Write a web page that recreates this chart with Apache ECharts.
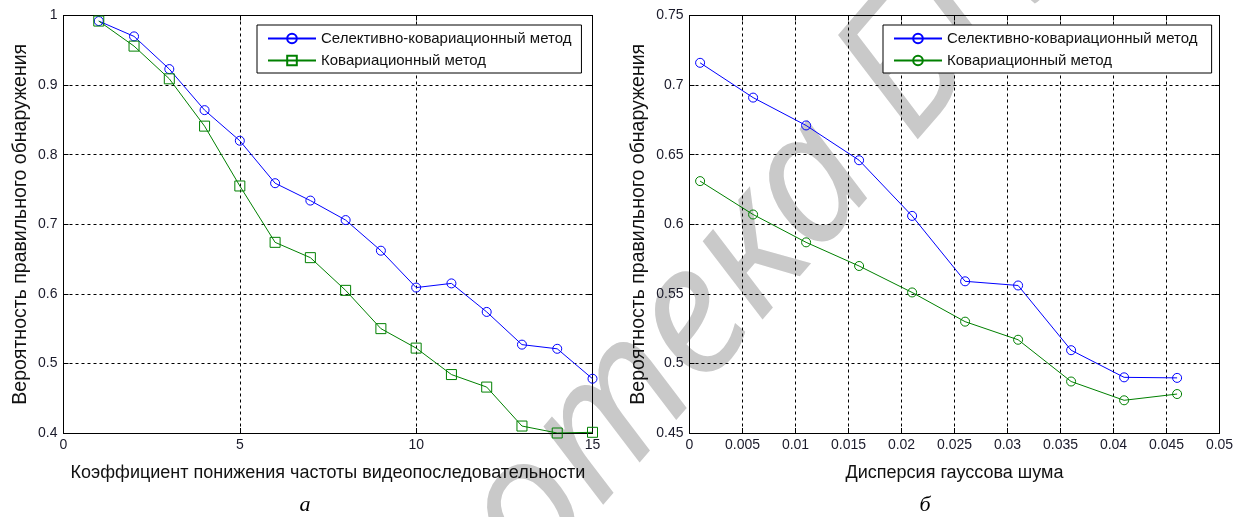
<!DOCTYPE html>
<html>
<head>
<meta charset="utf-8">
<script src="https://cdn.jsdelivr.net/npm/echarts@6/dist/echarts.min.js"></script>
<style>
html,body{margin:0;padding:0;background:#fff;}
#chart{width:1241px;height:517px;}
</style>
</head>
<body>
<div id="chart"></div>
<script>
// ---- Data ----
const seriesNames = ['Селективно-ковариационный метод', 'Ковариационный метод'];

// Left plot (a)
const xA = [1, 2, 3, 4, 5, 6, 7, 8, 9, 10, 11, 12, 13, 14, 15];
const selA = [0.992, 0.970, 0.923, 0.864, 0.820, 0.759, 0.734, 0.706, 0.662, 0.609, 0.615, 0.574, 0.527, 0.521, 0.478];
const covA = [0.992, 0.956, 0.909, 0.841, 0.755, 0.674, 0.652, 0.605, 0.550, 0.522, 0.484, 0.466, 0.410, 0.400, 0.401];

// Right plot (б)
const xB = [0.001, 0.006, 0.011, 0.016, 0.021, 0.026, 0.031, 0.036, 0.041, 0.046];
const selB = [0.716, 0.691, 0.671, 0.646, 0.606, 0.559, 0.556, 0.5095, 0.490, 0.4896];
const covB = [0.631, 0.607, 0.587, 0.570, 0.551, 0.530, 0.517, 0.487, 0.4735, 0.478];

const xNameA = 'Коэффициент понижения частоты видеопоследовательности';
const xNameB = 'Дисперсия гауссова шума';
const yName = 'Вероятность правильного обнаружения';
const captions = ['а', 'б'];
const watermark = 'Библиотека БГУИР';

const zip = (xs, ys) => xs.map((x, i) => [x, ys[i]]);

const BLUE = '#0000ff';
const GREEN = '#008000';
const FONT = 'Liberation Sans, Arial, sans-serif';
const LABEL_COLOR = '#1a1a2a';

function xAxisPair(gridIndex, min, max, interval, name) {
  return [
    {
      type: 'value', gridIndex, min, max, interval, position: 'bottom',
      name, nameLocation: 'middle', nameGap: 31,
      nameTextStyle: {fontFamily: FONT, fontSize: 18, color: '#111'},
      axisLine: {show: true, onZero: false, lineStyle: {color: '#000', width: 1}},
      axisTick: {show: true, inside: true, length: 5, lineStyle: {color: '#000'}},
      axisLabel: {show: true, fontFamily: FONT, fontSize: 14, color: LABEL_COLOR, margin: 5},
      splitLine: {show: true, lineStyle: {color: '#000', type: [3, 3], width: 1}}
    },
    {
      type: 'value', gridIndex, min, max, interval, position: 'top',
      axisLine: {show: true, onZero: false, lineStyle: {color: '#000', width: 1}},
      axisTick: {show: true, inside: true, length: 5, lineStyle: {color: '#000'}},
      axisLabel: {show: false},
      splitLine: {show: false}
    }
  ];
}

function yAxisPair(gridIndex, min, max, interval, nameGap) {
  return [
    {
      type: 'value', gridIndex, min, max, interval, position: 'left',
      name: yName, nameLocation: 'middle', nameGap,
      nameTextStyle: {fontFamily: FONT, fontSize: 19.5, color: '#111'},
      axisLine: {show: true, onZero: false, lineStyle: {color: '#000', width: 1}},
      axisTick: {show: true, inside: true, length: 5, lineStyle: {color: '#000'}},
      axisLabel: {show: true, fontFamily: FONT, fontSize: 14, color: LABEL_COLOR, margin: 6},
      splitLine: {show: true, lineStyle: {color: '#000', type: [3, 3], width: 1}}
    },
    {
      type: 'value', gridIndex, min, max, interval, position: 'right',
      axisLine: {show: true, onZero: false, lineStyle: {color: '#000', width: 1}},
      axisTick: {show: true, inside: true, length: 5, lineStyle: {color: '#000'}},
      axisLabel: {show: false},
      splitLine: {show: false}
    }
  ];
}

function lineSeries(name, data, xi, yi, color, symbol) {
  return {
    type: 'line', name, data, xAxisIndex: xi, yAxisIndex: yi,
    symbol, symbolSize: symbol === 'rect' ? 10 : 9,
    showSymbol: true, animation: false, z: 5,
    lineStyle: {color, width: 1},
    itemStyle: {color: 'rgba(255,255,255,0)', borderColor: color, borderWidth: 1}
  };
}

function legend(left, names) {
  return {
    orient: 'vertical', left, top: 25,
    data: names,
    itemWidth: 48, itemHeight: 12, itemGap: 7,
    padding: [6, 10, 5, 10],
    backgroundColor: '#fff', borderColor: '#000', borderWidth: 1,
    textStyle: {fontFamily: FONT, fontSize: 15, color: '#111', lineHeight: 14, padding: [0, 0, 0, 0]},
    selectedMode: false
  };
}

const chart = echarts.init(document.getElementById('chart'), null, {renderer: 'canvas'});

const option = {
  animation: false,
  backgroundColor: '#fff',
  grid: [
    {left: 63.5, top: 15.5, width: 529, height: 417.5, containLabel: false},
    {left: 689.5, top: 15.5, width: 530, height: 417.5, containLabel: false}
  ],
  xAxis: [
    ...xAxisPair(0, 0, 15, 5, xNameA),
    ...xAxisPair(1, 0, 0.05, 0.005, xNameB)
  ],
  yAxis: [
    ...yAxisPair(0, 0.4, 1, 0.1, 33),
    ...yAxisPair(1, 0.45, 0.75, 0.05, 41)
  ],
  legend: [
    legend(257, [seriesNames[0], seriesNames[1]]),
    legend(883, [seriesNames[0] + ' ', seriesNames[1] + ' '])
  ],
  series: [
    lineSeries(seriesNames[0], zip(xA, selA), 0, 0, BLUE, 'circle'),
    lineSeries(seriesNames[1], zip(xA, covA), 0, 0, GREEN, 'rect'),
    lineSeries(seriesNames[0] + ' ', zip(xB, selB), 2, 2, BLUE, 'circle'),
    lineSeries(seriesNames[1] + ' ', zip(xB, covB), 2, 2, GREEN, 'circle')
  ],
  graphic: [
    {
      type: 'text', x: 686, y: 330, rotation: 0.86, z: -10, silent: true,
      style: {text: watermark, fontFamily: 'Noto Sans, DejaVu Sans, sans-serif', fontStyle: 'italic',
              fontSize: 180, fill: '#c9c9c9', textAlign: 'center', textVerticalAlign: 'middle'}
    },
    {
      type: 'text', x: 305, y: 505, z: 10,
      style: {text: captions[0], fontFamily: 'Liberation Serif, Times New Roman, serif', fontStyle: 'italic',
              fontSize: 22, fill: '#000', textAlign: 'center', textVerticalAlign: 'middle'}
    },
    {
      type: 'text', x: 925, y: 505, z: 10,
      style: {text: captions[1], fontFamily: 'Liberation Serif, Times New Roman, serif', fontStyle: 'italic',
              fontSize: 22, fill: '#000', textAlign: 'center', textVerticalAlign: 'middle'}
    }
  ]
};

chart.setOption(option);
</script>
</body>
</html>
